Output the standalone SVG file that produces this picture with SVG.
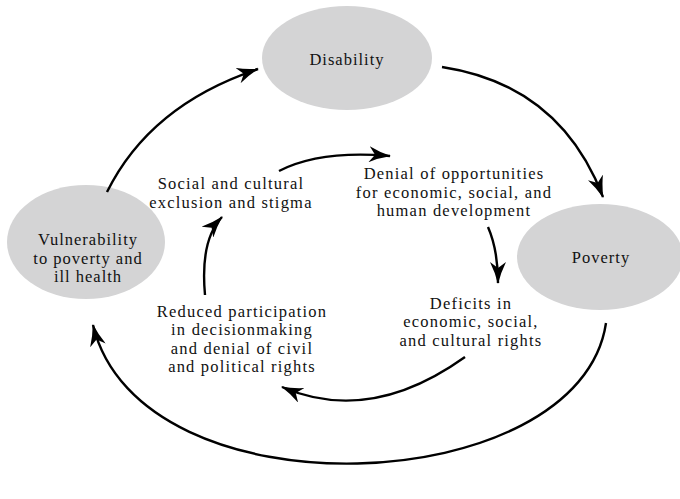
<svg xmlns="http://www.w3.org/2000/svg" width="680" height="499" viewBox="0 0 680 499">
<style>
.node ellipse{fill:#d4d4d5;stroke:none}
text{font-family:"Liberation Serif","Times New Roman",serif;font-size:16.5px;letter-spacing:1.2px;fill:#111;text-anchor:middle}
.node text{letter-spacing:1px}
.conn path{fill:none;stroke:#000;stroke-width:2.4;marker-end:url(#ah)}
</style>
<defs>
<marker id="ah" markerUnits="userSpaceOnUse" markerWidth="22" markerHeight="16" viewBox="0 0 22 16" refX="21" refY="8" orient="auto">
<path d="M0,0 Q10,5 22,8 Q10,11 0,16 L6,8 z" fill="#000"/>
</marker>
</defs>
<rect width="680" height="499" fill="#fff"/>
<g id="disability" class="node">
<ellipse cx="347" cy="58" rx="85" ry="52"/>
<text x="347" y="65">Disability</text>
</g>
<g id="poverty" class="node">
<ellipse cx="600" cy="257" rx="83" ry="53"/>
<text x="601" y="263">Poverty</text>
</g>
<g id="vulnerability" class="node">
<ellipse cx="86" cy="242" rx="79" ry="57"/>
<text x="88" y="245">Vulnerability</text>
<text x="88" y="263.5">to poverty and</text>
<text x="88" y="282">ill health</text>
</g>
<g id="social">
<text x="231" y="189">Social and cultural</text>
<text x="231" y="207.5">exclusion and stigma</text>
</g>
<g id="denial">
<text x="454" y="179">Denial of opportunities</text>
<text x="454" y="197.5">for economic, social, and</text>
<text x="454" y="216">human development</text>
</g>
<g id="deficits">
<text x="471" y="308.5">Deficits in</text>
<text x="471" y="327">economic, social,</text>
<text x="471" y="345.5">and cultural rights</text>
</g>
<g id="reduced">
<text x="242" y="316.5">Reduced participation</text>
<text x="242" y="335">in decisionmaking</text>
<text x="242" y="353.5">and denial of civil</text>
<text x="242" y="372">and political rights</text>
</g>
<g id="connectors" class="conn">
<path d="M107,192 Q150,105 258,69"/>
<path d="M442,67 Q560,85 603,197"/>
<path d="M606,323 C580,500 140,520 93,325"/>
<path d="M279,171 Q320,150 390,156"/>
<path d="M488,227 Q498,250 498,283"/>
<path d="M465,357 Q370,425 282,387"/>
<path d="M205,295 Q200,240 222,217"/>
</g>
</svg>
